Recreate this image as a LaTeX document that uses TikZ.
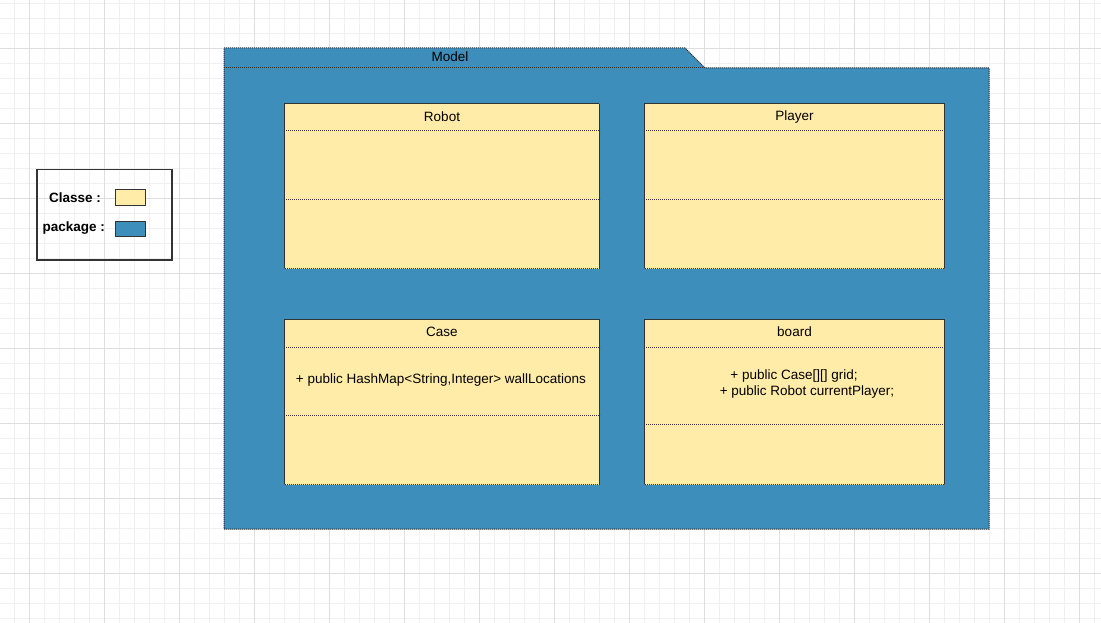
\documentclass[tikz,border=0pt]{standalone}
\usepackage{fontspec}
\setmainfont{Liberation Sans}
\usepackage{tikz}
\usetikzlibrary{positioning}
\definecolor{pkgblue}{HTML}{3E8EBB}
\definecolor{classyellow}{HTML}{FFECA8}
\definecolor{edgegray}{HTML}{333333}
\definecolor{gridminor}{HTML}{F0F0F0}
\definecolor{gridmajor}{HTML}{DEDEDE}

\begin{document}
\begin{tikzpicture}[x=1pt,y=-1pt,
    font=\fontsize{13.5}{16}\selectfont,
    dotline/.style={draw=edgegray,dash pattern=on 1.2pt off 0.8pt,line width=1pt},
    classbox/.style={dotline,fill=classyellow,anchor=north west,inner sep=0pt},
    legendlabel/.style={font=\fontsize{13.5}{16}\selectfont\bfseries},
    swatch/.style={draw=edgegray,line width=1pt,minimum width=30pt,minimum height=15pt,inner sep=0pt}]
  \useasboundingbox (0,0) rectangle (1101,623);
  \fill[white] (0,0) rectangle (1101,623);
  % background grid
  \foreach \x in {14.5,29.5,...,1100} \draw[gridminor,line width=0.8pt] (\x,0) -- (\x,623);
  \foreach \y in {3,18,...,623} \draw[gridminor,line width=0.8pt] (0,\y) -- (1101,\y);
  \foreach \x in {29.5,104.5,...,1100} \draw[gridmajor,line width=0.8pt] (\x,0) -- (\x,623);
  \foreach \y in {48,123,...,623} \draw[gridmajor,line width=0.8pt] (0,\y) -- (1101,\y);

  % package
  \fill[pkgblue] (224,48) -- (685,48) -- (705,68) -- (989,68) -- (989,529) -- (224,529) -- cycle;
  \draw[dotline] (224,48) -- (685,48) -- (705,68) -- (989,68) -- (989,529) -- (224,529) -- cycle;
  \draw[dotline] (224,68) -- (705,68);
  \node (model) at (450,57) {Model};

  % classes
  \node[classbox,minimum width=315pt,minimum height=165pt] (robot) at (284,103) {};
  \node at ([yshift=-14pt]robot.north) (robot title) {Robot};
  \draw[dotline] ([yshift=-28pt]robot.north west) -- ([yshift=-28pt]robot.north east);
  \draw[dotline] ([yshift=-97pt]robot.north west) -- ([yshift=-97pt]robot.north east);

  \node[classbox,minimum width=300pt,minimum height=165pt] (player) at (644,103) {};
  \node at ([yshift=-14.5pt]player.north) (player title) {Player};
  \draw[dotline] ([yshift=-28pt]player.north west) -- ([yshift=-28pt]player.north east);
  \draw[dotline] ([yshift=-97pt]player.north west) -- ([yshift=-97pt]player.north east);

  \node[classbox,minimum width=315pt,minimum height=165pt] (case) at (284,319) {};
  \node at ([yshift=-13pt]case.north) (case title) {Case};
  \draw[dotline] ([yshift=-28pt]case.north west) -- ([yshift=-28pt]case.north east);
  \draw[dotline] ([yshift=-96pt]case.north west) -- ([yshift=-96pt]case.north east);
  \node (case attr) at (441,380.5) {+ public HashMap<String,Integer> wallLocations};

  \node[classbox,minimum width=300pt,minimum height=165pt] (board) at (644,319) {};
  \node at ([yshift=-13pt]board.north) (board title) {board};
  \draw[dotline] ([yshift=-28pt]board.north west) -- ([yshift=-28pt]board.north east);
  \draw[dotline] ([yshift=-105pt]board.north west) -- ([yshift=-105pt]board.north east);
  \node (board grid) at (794,376.5) {+ public Case[][] grid;};
  \node (board player) at (807,392.5) {+ public Robot currentPlayer;};

  % legend
  \node[draw=edgegray,line width=1.5pt,minimum width=135pt,minimum height=90pt,anchor=north west,inner sep=0pt] (legend) at (36,169) {};
  \node[swatch,fill=classyellow] (class swatch) at (130,197.5) {};
  \node[swatch,fill=pkgblue] (pkg swatch) at (130,228.5) {};
  \node[legendlabel,left=10pt of class swatch] (class label) {Classe :};
  \node[legendlabel,left=6pt of pkg swatch] (pkg label) {package :};
\end{tikzpicture}
\end{document}
